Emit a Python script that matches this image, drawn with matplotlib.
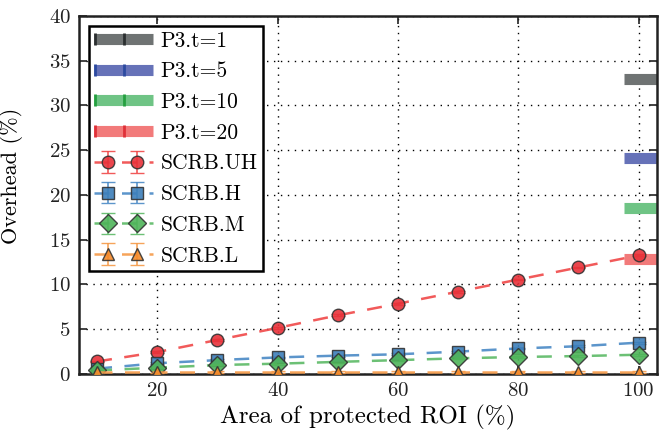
import matplotlib
matplotlib.use("Agg")
import matplotlib.pyplot as plt
import numpy as np
from matplotlib.lines import Line2D
from matplotlib.container import ErrorbarContainer
from matplotlib.legend_handler import HandlerErrorbar, HandlerLine2DCompound

plt.rcParams['font.family'] = 'cmr10'
plt.rcParams['mathtext.fontset'] = 'cm'
plt.rcParams['axes.formatter.use_mathtext'] = True

# protected region of interest, in percent of the frame
area = [10, 20, 30, 40, 50, 60, 70, 80, 90, 100]

scrb_uh = [1.4, 2.45, 3.8, 5.15, 6.55, 7.85, 9.2, 10.55, 11.9, 13.25]
scrb_h = [0.6, 1.2, 1.55, 1.85, 2.05, 2.2, 2.5, 2.85, 3.1, 3.5]
scrb_m = [0.4, 0.7, 1.0, 1.15, 1.35, 1.55, 1.75, 1.9, 2.0, 2.15]
scrb_l = [0.25, 0.25, 0.25, 0.25, 0.25, 0.25, 0.25, 0.25, 0.25, 0.25]
scrb_err = [0.1, 0.1, 0.1, 0.1, 0.1, 0.1, 0.1, 0.1, 0.1, 0.1]

# P3 overhead at full-frame protection for each threshold
p3_labels = ['P3.t=1', 'P3.t=5', 'P3.t=10', 'P3.t=20']
p3_values = [33.0, 24.1, 18.5, 12.9]
p3_colors = ['#6f7373', '#6672b8', '#6fc485', '#f27a7a']
p3_marks = ['#2b2f30', '#2c4aa0', '#25a040', '#e03038']


class LineMarks(HandlerLine2DCompound):
    # full-length line, marks at the left end and the middle
    def get_xdata(self, legend, xdescent, ydescent, width, height, fontsize):
        xdata = np.array([-xdescent, -xdescent + width])
        return xdata, -xdescent + width * np.array([0.02, 0.5])


class ErrMarks(HandlerErrorbar):
    # markers sit a quarter in from each end of the dashed line
    def get_xdata(self, legend, xdescent, ydescent, width, height, fontsize):
        xdata = np.array([-xdescent, -xdescent + width])
        return xdata, -xdescent + width * np.array([0.24, 0.73])


fig = plt.figure(figsize=(6.59, 4.44), dpi=100)
ax = fig.add_axes([0.1199, 0.1577, 0.8765, 0.8063])

handles = []
for label, v, c, mc in zip(p3_labels, p3_values, p3_colors, p3_marks):
    ax.plot([97.5, 103.5], [v, v], color=c, lw=8, solid_capstyle='butt', zorder=2)
    handles.append(Line2D([], [], color=c, lw=8, solid_capstyle='butt',
                          marker='|', ms=8, mew=2, mec=mc, label=label))

series = [
    ('SCRB.UH', scrb_uh, 'o', '#e8323a', '#f04848', 9),
    ('SCRB.H', scrb_h, 's', '#3d7fba', '#4a8ac6', 9),
    ('SCRB.M', scrb_m, 'D', '#4fb45a', '#5cba66', 9),
    ('SCRB.L', scrb_l, '^', '#f58a2a', '#f59a48', 9),
]
for label, ys, m, fc, lc, ms in series:
    eb = ax.errorbar(area, ys, yerr=scrb_err, fmt=m, ls='--', dashes=(6, 5),
                     color=lc, mfc=fc, mec='#333333', mew=1, ms=ms,
                     ecolor=lc, elinewidth=1.2, capsize=5, capthick=1.2,
                     alpha=0.9, lw=1.8, label=label, zorder=3)
    handles.append(eb)

ax.set_xlim(7, 103)
ax.set_ylim(0, 40)
ax.set_xticks([20, 40, 60, 80, 100])
ax.set_yticks(range(0, 41, 5))
ax.grid(True, color='black', ls=(0, (1, 4)), lw=1)
ax.set_axisbelow(True)

ax.tick_params(direction='in', length=6, width=1.2, top=True, right=True,
               labelsize=15, colors='#222222', pad=6)
for s in ax.spines.values():
    s.set_linewidth(1.8)
    s.set_color('#222222')

ax.set_xlabel('Area of protected ROI (%)', fontsize=18, labelpad=3)
ax.set_ylabel('Overhead (%)', fontsize=16)
ax.yaxis.set_label_coords(-0.097, 0.553)

leg = ax.legend(handles=handles, loc='upper left', fontsize=15.5, numpoints=2,
                handlelength=2.75, handletextpad=0.35, borderpad=0.25,
                labelspacing=0.52, fancybox=False, framealpha=1,
                borderaxespad=0.45,
                handler_map={Line2D: LineMarks(), ErrorbarContainer: ErrMarks()})
leg.get_frame().set_edgecolor('black')
leg.get_frame().set_linewidth(1.8)

fig.savefig('out.png', dpi=100)
